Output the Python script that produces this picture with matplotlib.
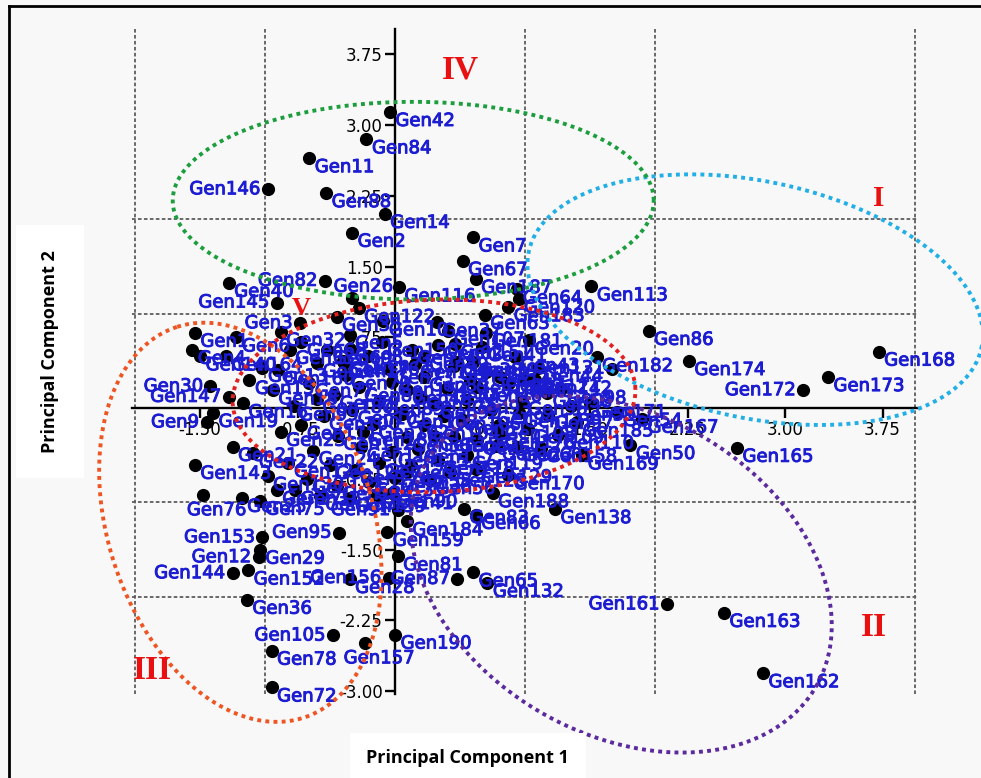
import numpy as np
import matplotlib.pyplot as plt
import matplotlib.patheffects as pe
from matplotlib.ticker import FixedLocator, FormatStrFormatter
from matplotlib.lines import Line2D

plt.rcParams['axes.unicode_minus'] = False

# genotypes whose labels can be read: id, PC1 score, PC2 score, label side
gen_id = [42, 84, 11, 146, 88, 14, 2, 7, 67, 187, 113, 120, 183, 86, 182, 131,
          174, 172, 173, 168, 171, 167, 50, 165, 169, 170, 188, 138, 83, 132,
          87, 161, 163, 162, 190, 157, 105, 78, 72, 36, 144, 152, 12, 29, 153,
          95, 91, 28, 156, 159, 81, 184, 90, 40, 145, 82, 3, 26, 116, 122, 10,
          107, 62, 20, 49, 121, 178, 140, 30, 147, 9, 143, 76, 75, 17, 5, 8]
pc1 = [-0.04, -0.22, -0.66, -0.98, -0.53, -0.08, -0.33, 0.60, 0.52, 0.62, 1.51,
       0.95, 0.87, 1.95, 1.55, 1.67, 2.26, 3.14, 3.33, 3.72, 1.50, 1.90, 1.81,
       2.63, 1.44, 0.87, 0.75, 1.23, 0.53, 0.71, 0.48, 2.09, 2.53, 2.83, 0.00,
       -0.23, -0.48, -0.95, -0.95, -1.14, -1.25, -1.13, -1.05, -1.04, -1.02,
       -0.43, 0.02, -0.35, -0.05, -0.06, 0.02, 0.09, -0.02, -1.28, -0.91, -0.54,
       -0.73, -0.33, 0.03, -0.28, -0.09, 0.41, 0.33, 1.03, 0.22, 0.99, 0.80,
       -1.50, -1.42, -1.28, -1.45, -1.54, -1.48, -1.04, -0.39, -0.35, -0.35]
pc2 = [3.14, 2.85, 2.65, 2.32, 2.28, 2.06, 1.86, 1.81, 1.56, 1.37, 1.29, 1.16,
       1.07, 0.82, 0.54, 0.42, 0.50, 0.19, 0.33, 0.60, 0.05, -0.11, -0.39, -0.42,
       -0.50, -0.71, -0.90, -1.07, -1.07, -1.85, -1.81, -2.08, -2.17, -2.81,
       -2.40, -2.49, -2.41, -2.57, -2.96, -2.03, -1.75, -1.72, -1.58, -1.50,
       -1.37, -1.32, -1.08, -1.81, -1.80, -1.31, -1.57, -1.20, -0.90, 1.33, 1.12,
       1.35, 0.90, 1.17, 1.28, 1.06, 0.92, 0.82, 0.67, 0.72, 0.55, 0.32, -0.27,
       0.55, 0.23, 0.12, -0.15, -0.60, -0.92, -0.98, 0.48, 0.78, 0.63]
side = ['r', 'r', 'r', 'l', 'r', 'r', 'r', 'r', 'r', 'r', 'r', 'r', 'r', 'r', 'r',
        'l', 'r', 'l', 'r', 'r', 'r', 'r', 'r', 'r', 'r', 'r', 'r', 'r', 'r', 'r',
        'l', 'l', 'r', 'r', 'r', 'b', 'l', 'r', 'r', 'r', 'l', 'r', 'l', 'r', 'l',
        'l', 'l', 'r', 'l', 'r', 'r', 'r', 'r', 'r', 'l', 'l', 'l', 'a', 'r', 'r',
        'r', 'r', 'r', 'r', 'r', 'r', 'r', 'r', 'l', 'l', 'l', 'r', 'b', 'r', 'r',
        'r', 'r']

# remaining genotypes, packed around the origin
crowd_pc1 = [-1.54, -1.56, -1.22, -1.02, -1.12, -1.17, -0.94, -1.40, -1.25, -1.09,
             -0.88, -0.63, -1.18, -0.91, -0.77, -0.88, -0.81, -0.60, -0.45, 0.32,
             0.48, 0.60, 0.67, 0.92, 1.10, 0.88, 0.63, 0.40, 0.09, 0.52, 0.45,
             0.09, 1.71, 0.09, 0.27, 0.81, 1.17, 1.35, 0.94, 0.63, 0.69, 0.94,
             0.60, 0.62, -0.72, -0.52, -0.38, -0.21, -0.05, 0.13, -0.66, -0.47,
             -0.28, -0.12, 0.22, 0.31, 0.55, 0.74, 0.98, 1.18, 1.28, -0.78, -0.55,
             -0.33, -0.17, 0.05, 0.22, 0.38, 0.80, 1.02, 1.25, -0.72, -0.44, -0.26,
             -0.02, 0.18, 0.33, 0.55, 0.78, -0.82, -0.50, -0.31, -0.12, 0.42, 0.62,
             -0.98, -0.68, -0.45, -0.20, 0.00, -0.58, -0.35, -0.14, 1.08, 0.70,
             0.15, -0.10, 0.46, -0.02, 0.30, 1.12, -0.90, -1.30, 0.58, 0.20, -0.40,
             0.95, 0.12, -0.60, 0.70, 1.40, -0.25, 0.45]
crowd_pc2 = [0.80, 0.62, 0.75, 0.43, 0.30, 0.05, 0.19, -0.05, -0.41, -0.48, -0.25,
             -0.45, -0.95, -0.87, -0.87, 0.81, 0.62, 0.48, 0.97, 0.91, 0.49, 0.49,
             0.65, 0.54, 0.43, 0.27, 0.22, 0.21, 0.19, -0.13, -0.31, -0.31, -0.04,
             -0.68, -0.76, 0.33, 0.16, 0.02, -0.41, -0.34, 0.99, 1.26, -1.74, -1.13,
             0.70, 0.62, 0.35, 0.55, 0.41, 0.62, 0.27, 0.14, 0.22, 0.08, 0.33, 0.04,
             0.09, -0.02, 0.08, -0.07, 0.20, 0.02, -0.08, -0.02, -0.17, -0.06, -0.18,
             -0.08, -0.18, -0.22, -0.28, -0.18, -0.29, -0.41, -0.47, -0.43, -0.55,
             -0.50, -0.40, -0.58, -0.60, -0.66, -0.58, -0.68, -0.64, -0.72, -0.75,
             -0.82, -0.78, -0.74, -0.93, -0.95, -0.92, 0.30, 0.38, 0.47, 0.70, 0.68,
             0.28, -0.30, -0.42, 0.40, 0.55, 0.30, 0.12, 0.50, -0.05, -0.60, 0.10,
             0.80, -0.15, -0.25, 0.45]
crowd_id = [i for i in range(1, 191) if i not in gen_id]

x_ticks = [-1.50, -0.75, 0.75, 1.50, 2.25, 3.00, 3.75]
y_ticks = [-3.00, -2.25, -1.50, -0.75, 0.75, 1.50, 2.25, 3.00, 3.75]

# cluster outlines: centre, semi-axes (x units), tilt in degrees
clusters = {
    'I': (2.77, 1.15, 1.78, 0.91, -12, '#22aee6'),
    'II': (1.74, -1.76, 1.73, 1.23, -30, '#5a2a9e'),
    'III': (-1.19, -1.21, 1.58, 1.02, 108, '#ee5522'),
    'IV': (0.14, 2.20, 1.85, 0.76, 0, '#1d9e3e'),
    'V': (0.30, 0.13, 1.55, 0.74, 2, '#e22020'),
}
numeral_pos = {'I': (3.72, 2.22, 21), 'II': (3.68, -2.32, 24),
               'III': (-1.87, -2.78, 24), 'IV': (0.50, 3.59, 24),
               'V': (-0.72, 1.06, 19)}

fig = plt.figure(figsize=(9.81, 7.78), dpi=100, facecolor='#f8f8f8')
ax = fig.add_axes([0.135, 0.108, 0.8004, 0.8548])
ax.set_facecolor('none')
ax.set_xlim(-2.02, 4.02)
ax.set_ylim(-3.03, 4.02)

for s in ['top', 'right']:
    ax.spines[s].set_visible(False)
for s in ['left', 'bottom']:
    ax.spines[s].set_position('zero')
    ax.spines[s].set_linewidth(1.7)

ax.xaxis.set_major_locator(FixedLocator(x_ticks))
ax.yaxis.set_major_locator(FixedLocator(y_ticks))
ax.xaxis.set_major_formatter(FormatStrFormatter('%.2f'))
ax.yaxis.set_major_formatter(FormatStrFormatter('%.2f'))
ax.xaxis.set_minor_locator(FixedLocator(range(-2, 5)))
ax.yaxis.set_minor_locator(FixedLocator(range(-3, 4)))
ax.tick_params(which='major', direction='out', length=7, width=1.7,
               labelsize=12, pad=2)
ax.tick_params(which='minor', length=0)
ax.set_axisbelow(True)
ax.grid(which='minor', color='#5e5e5e', linestyle=(0, (2, 1.3)), linewidth=1.3)

offsets = {'r': ((4, -6.5), 'left'), 'l': ((-5.5, 0), 'right'),
           'a': ((8, 8), 'center'), 'b': ((10, -11), 'center')}

all_x = pc1 + crowd_pc1
all_y = pc2 + crowd_pc2
all_id = gen_id + crowd_id[:len(crowd_pc1)]
all_side = side + ['r'] * len(crowd_pc1)

# black score points under the blue genotype names
ax.scatter(all_x, all_y, s=72, color='black', zorder=3)
label_col = '#1c1cd2'
for x, y, g, sd in zip(all_x, all_y, all_id, all_side):
    off, ha = offsets[sd]
    ax.annotate(f'Gen{g}', (x, y), xytext=off, textcoords='offset points',
                ha=ha, va='center', fontsize=13, color=label_col, zorder=4,
                path_effects=[pe.withStroke(linewidth=0.7, foreground=label_col)])

# dotted outlines drawn in screen proportions
bb = ax.get_position()
fw, fh = fig.get_size_inches()
x0, x1 = ax.get_xlim()
y0, y1 = ax.get_ylim()
stretch = (bb.width * fw / (x1 - x0)) / (bb.height * fh / (y1 - y0))
t = np.linspace(0, 2 * np.pi, 500)
for name, (cx, cy, a, b, deg, col) in clusters.items():
    th = np.deg2rad(deg)
    u = a * np.cos(t) * np.cos(th) - b * np.sin(t) * np.sin(th)
    v = a * np.cos(t) * np.sin(th) + b * np.sin(t) * np.cos(th)
    ax.plot(cx + u, cy + v * stretch, color=col, linestyle=(0, (1, 1.1)),
            linewidth=2.8, clip_on=False, zorder=6)
    nx, ny, size = numeral_pos[name]
    ax.text(nx, ny, name, color='#e81010', fontsize=size, fontweight='bold',
            family='Liberation Serif', ha='center', va='center', zorder=7)

fig.text(0.051, 0.548, 'Principal Component 2', rotation=90, ha='center',
         va='center', fontsize=13, fontweight='bold', family='Open Sans',
         bbox=dict(facecolor='white', edgecolor='none', boxstyle='square,pad=1.4'))
fig.text(0.477, 0.026, 'Principal Component 1', ha='center', va='center',
         fontsize=13, fontweight='bold', family='Open Sans',
         bbox=dict(facecolor='white', edgecolor='none', boxstyle='square,pad=0.9'))

# outer frame on the left and top
fig.add_artist(Line2D([0.0095, 0.0095], [0.0, 0.992], color='black', lw=2))
fig.add_artist(Line2D([0.0095, 1.0], [0.992, 0.992], color='black', lw=2))

fig.savefig('out.png', dpi=100, facecolor=fig.get_facecolor())
